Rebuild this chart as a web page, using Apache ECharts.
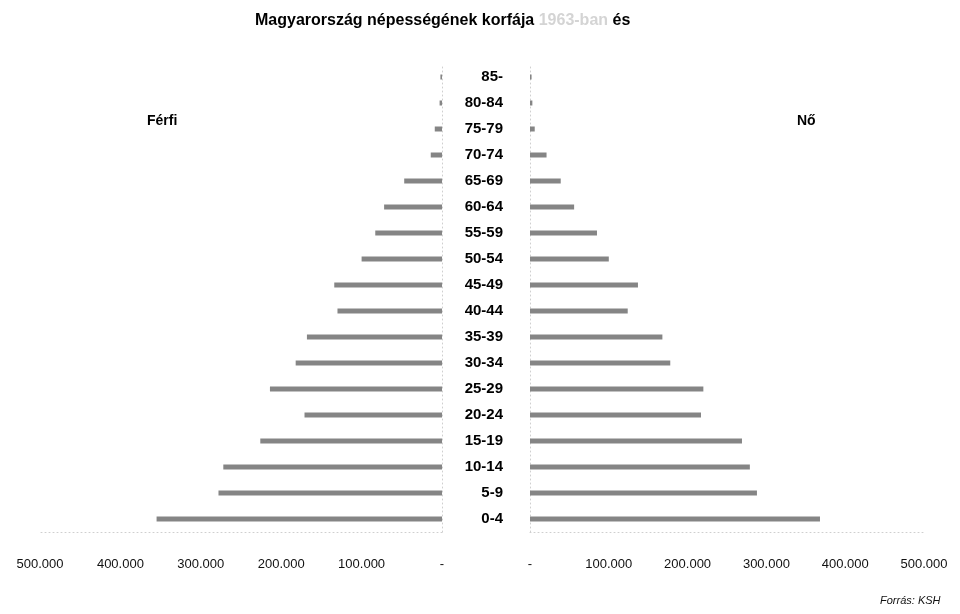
<!DOCTYPE html>
<html>
<head>
<meta charset="utf-8">
<script src="https://cdn.jsdelivr.net/npm/echarts@6/dist/echarts.min.js"></script>
<style>html,body{margin:0;padding:0;background:#fff}#c{width:960px;height:614px}</style>
</head>
<body>
<div id="c"></div>
<script>
const categories = ['0-4','5-9','10-14','15-19','20-24','25-29','30-34','35-39','40-44','45-49','50-54','55-59','60-64','65-69','70-74','75-79','80-84','85-'];
const male   = [355000, 278000, 272000, 226000, 171000, 214000, 182000, 168000, 130000, 134000, 100000, 83000, 72000, 47000, 14000, 9000, 3000, 2000];
const female = [368000, 288000, 279000, 269000, 217000, 220000, 178000, 168000, 124000, 137000, 100000, 85000, 56000, 39000, 21000, 6000, 3000, 2000];
const tickValues = [0, 100000, 200000, 300000, 400000, 500000];

const barColor = '#858585';
const fmt = v => v === 0 ? '-' : (v / 1000).toFixed(0) + '.000';
const axisLabelStyle = { color: '#111', fontSize: 13, fontFamily: 'Liberation Sans, Arial, sans-serif', margin: 26, formatter: fmt };
const dotted = { show: true, lineStyle: { color: '#cfcfcf', type: [1, 3], width: 1 } };

const chart = echarts.init(document.getElementById('c'), null, { renderer: 'canvas' });
chart.setOption({
  animation: false,
  backgroundColor: '#fff',
  title: {
    text: '{a|Magyarország népességének korfája }{b|1963-ban}{a| és}',
    left: 250, top: 8,
    textStyle: {
      rich: {
        a: { fontSize: 16, fontWeight: 'bold', color: '#000', fontFamily: 'Liberation Sans, Arial, sans-serif' },
        b: { fontSize: 16, fontWeight: 'bold', color: '#d4d4d4', fontFamily: 'Liberation Sans, Arial, sans-serif' }
      }
    }
  },
  grid: [
    { left: 40, right: 518, top: 64, bottom: 82 },
    { left: 530, right: 36, top: 64, bottom: 82 }
  ],
  xAxis: [
    { gridIndex: 0, type: 'value', inverse: true, min: 0, max: 500000, interval: 100000,
      axisLine: dotted, axisTick: { show: false }, splitLine: { show: false }, axisLabel: axisLabelStyle },
    { gridIndex: 1, type: 'value', min: 0, max: 500000, interval: 100000,
      axisLine: dotted, axisTick: { show: false }, splitLine: { show: false }, axisLabel: axisLabelStyle }
  ],
  yAxis: [
    { gridIndex: 0, type: 'category', data: categories, position: 'right',
      axisLine: dotted, axisTick: { show: false }, axisLabel: { show: false } },
    { gridIndex: 1, type: 'category', data: categories, position: 'left',
      axisLine: dotted, axisTick: { show: false },
      axisLabel: { show: true, margin: 27, align: 'right', color: '#000', fontSize: 15, fontWeight: 'bold',
                   fontFamily: 'Liberation Sans, Arial, sans-serif' } }
  ],
  series: [
    { name: 'Férfi', type: 'bar', xAxisIndex: 0, yAxisIndex: 0, data: male, barWidth: 5,
      itemStyle: { color: barColor } },
    { name: 'Nő', type: 'bar', xAxisIndex: 1, yAxisIndex: 1, data: female, barWidth: 5,
      itemStyle: { color: barColor } }
  ],
  graphic: [
    { type: 'text', left: 147, top: 114, style: { text: 'Férfi', font: 'bold 14px Liberation Sans, Arial, sans-serif', fill: '#000' } },
    { type: 'text', left: 797, top: 114, style: { text: 'Nő', font: 'bold 14px Liberation Sans, Arial, sans-serif', fill: '#000' } },
    { type: 'text', left: 880, top: 595, style: { text: 'Forrás: KSH', font: 'italic 11px Liberation Sans, Arial, sans-serif', fill: '#111' } }
  ]
});
</script>
</body>
</html>
